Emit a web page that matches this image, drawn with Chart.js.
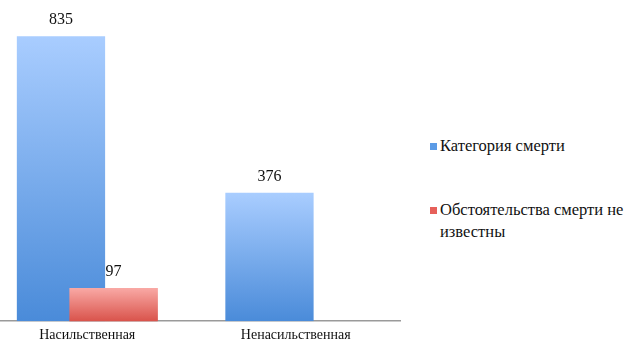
<!DOCTYPE html>
<html>
<head>
<meta charset="utf-8">
<script src="https://cdn.jsdelivr.net/npm/chart.js@4"></script>
<style>
  body { margin: 0; background: #fff; width: 644px; height: 349px; overflow: hidden; position: relative; }
  #chartBox { position: absolute; left: -17px; top: 0; width: 420px; height: 349px; }
  #legend { position: absolute; left: 430px; top: 135px; width: 214px; font-family: 'Liberation Serif', 'DejaVu Serif', 'Times New Roman', serif; font-size: 16.5px; color: #111; }
  .item { position: relative; padding-left: 10px; line-height: 22px; margin-bottom: 42px; }
  .item span { position: absolute; left: 0; top: 8px; width: 7px; height: 7px; }
</style>
</head>
<body>
<div id="chartBox"><canvas id="chartCanvas"></canvas></div>
<div id="legend"></div>
<script>
const categories = ['Насильственная', 'Ненасильственная'];
const deathCategory = [835, 376];
const unknownCircumstances = [97, null];
const seriesNames = ['Категория смерти', 'Обстоятельства смерти не известны'];

const serif = "'Liberation Serif', 'DejaVu Serif', 'Times New Roman', serif";

// gradient per bar: light at the top, darker at the base
function barGradient(light, dark) {
  return function (context) {
    const chart = context.chart;
    const y = chart.scales.y;
    const v = context.raw;
    if (!chart.chartArea || !y || v == null) return dark;
    const top = y.getPixelForValue(v);
    const bottom = y.getPixelForValue(0);
    const g = chart.ctx.createLinearGradient(0, top, 0, bottom);
    g.addColorStop(0, light);
    g.addColorStop(1, dark);
    return g;
  };
}

// second series sits in front of the first one (overlapping bars)
const frontSeries = {
  id: 'frontSeries',
  afterDatasetsDraw(chart) {
    const meta = chart.getDatasetMeta(1);
    meta.data.forEach(bar => bar.draw(chart.ctx));
  }
};

const valueLabels = {
  id: 'valueLabels',
  afterDatasetsDraw(chart) {
    const ctx = chart.ctx;
    ctx.save();
    ctx.font = '16px ' + serif;
    ctx.fillStyle = '#111';
    ctx.textAlign = 'center';
    ctx.textBaseline = 'bottom';
    chart.data.datasets.forEach((ds, i) => {
      chart.getDatasetMeta(i).data.forEach((bar, j) => {
        if (ds.data[j] == null) return;
        ctx.fillText(String(ds.data[j]), bar.x, bar.y - 8);
      });
    });
    ctx.restore();
  }
};

const ctx = document.getElementById('chartCanvas').getContext('2d');
const chart = new Chart(ctx, {
  type: 'bar',
  data: {
    labels: categories,
    datasets: [
      {
        label: seriesNames[0],
        data: deathCategory,
        backgroundColor: barGradient('#a9cdff', '#4a8bd9'),
        legendColor: '#5b9be6'
      },
      {
        label: seriesNames[1],
        data: unknownCircumstances,
        backgroundColor: barGradient('#f9a9a5', '#d9534b'),
        legendColor: '#e6605a'
      }
    ]
  },
  options: {
    responsive: true,
    maintainAspectRatio: false,
    animation: false,
    categoryPercentage: 0.504,
    barPercentage: 1.68,
    layout: { padding: { top: 14, right: 3, left: 0, bottom: -1 } },
    plugins: { legend: { display: false }, tooltip: { enabled: false } },
    scales: {
      x: {
        grid: { display: false, drawTicks: false },
        border: { display: true, color: '#9a9a9a', width: 1.5 },
        ticks: { color: '#111', padding: 6, font: { family: serif, size: 14 } }
      },
      y: { display: false, min: 0, max: 900 }
    }
  },
  plugins: [frontSeries, valueLabels]
});

const legend = document.getElementById('legend');
chart.data.datasets.forEach(ds => {
  const div = document.createElement('div');
  div.className = 'item';
  const sw = document.createElement('span');
  sw.style.background = ds.legendColor;
  div.appendChild(sw);
  div.appendChild(document.createTextNode(ds.label));
  legend.appendChild(div);
});
</script>
</body>
</html>
